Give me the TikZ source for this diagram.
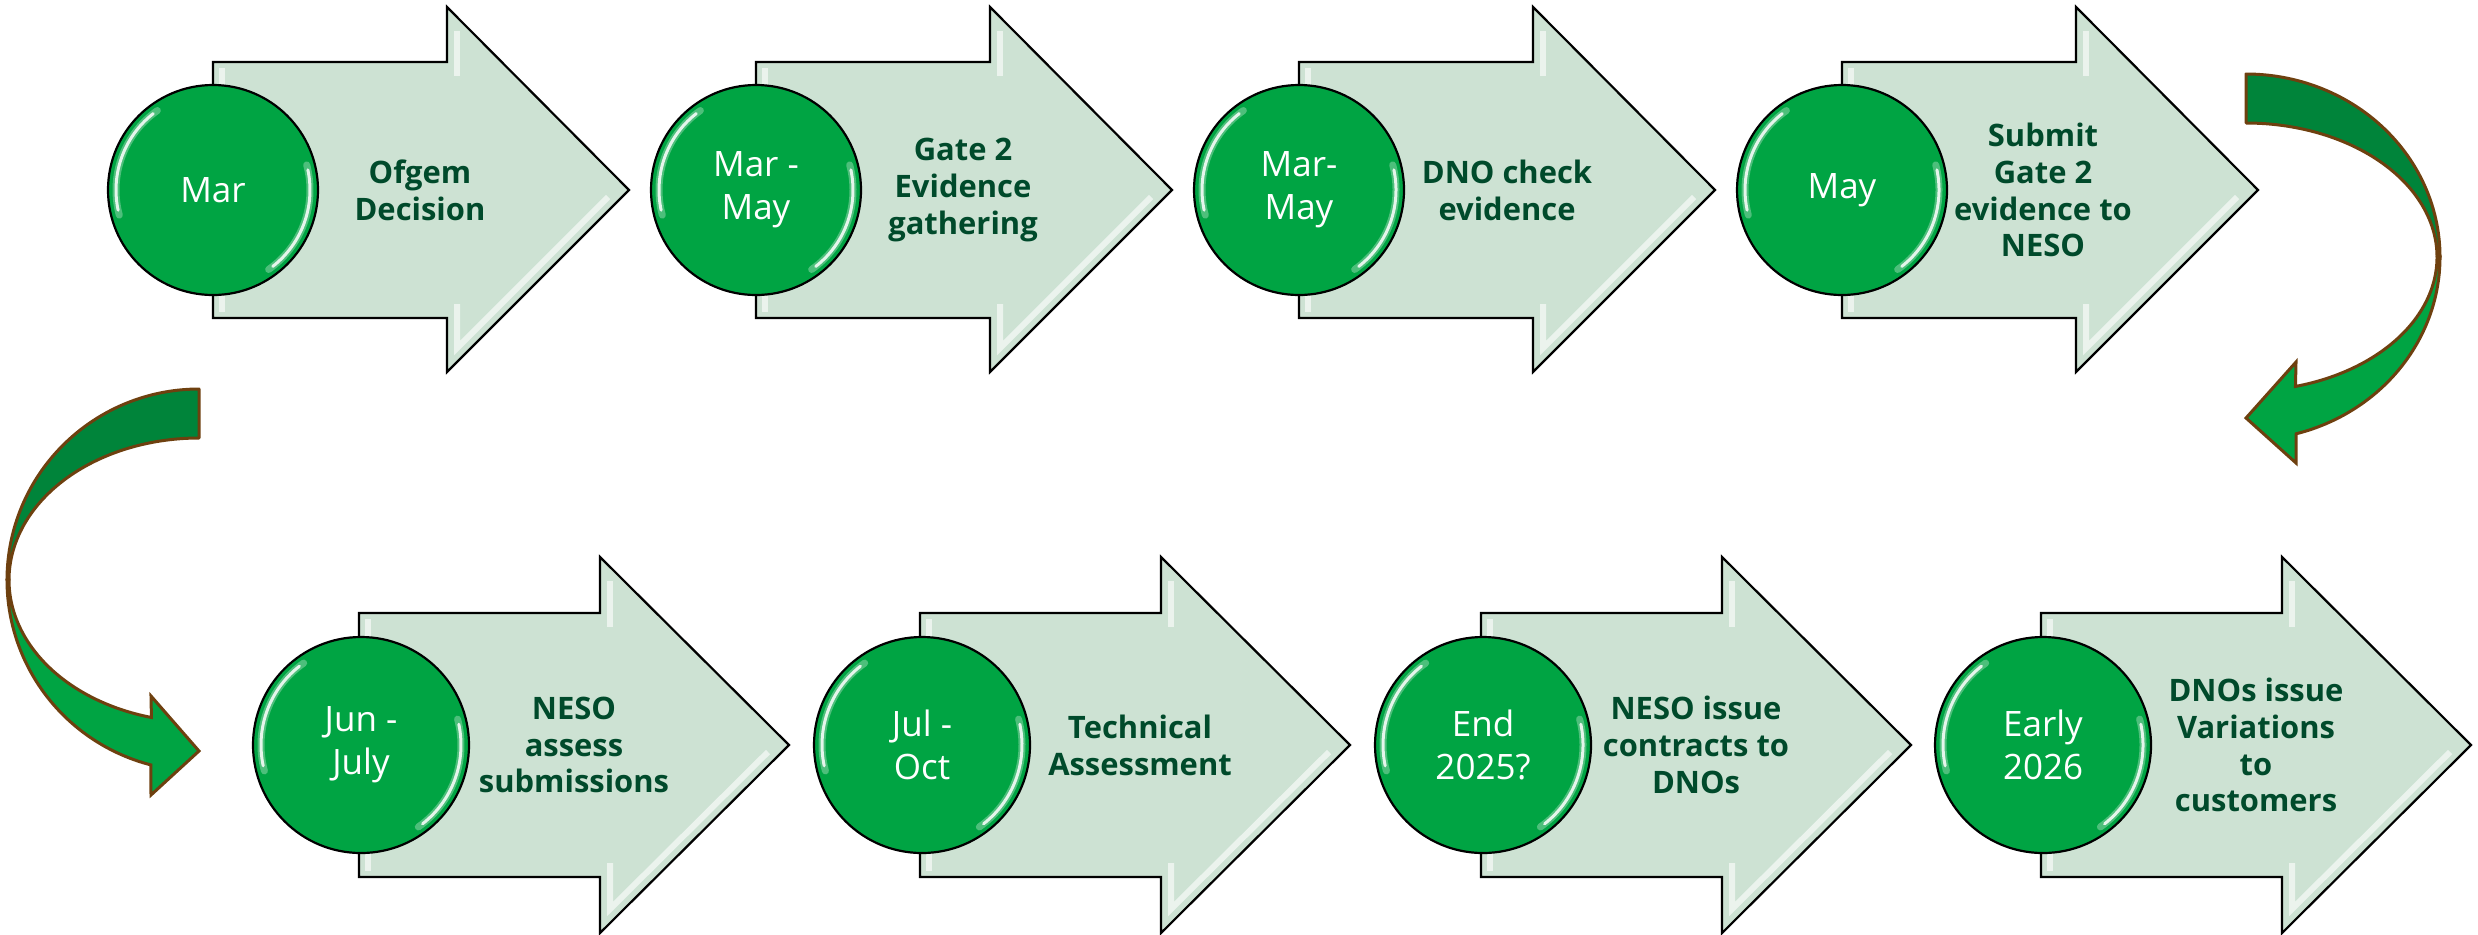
\documentclass[tikz,border=0pt]{standalone}
\usepackage{fontspec}
\setmainfont{Open Sans}
\definecolor{cgreen}{HTML}{00A443}
\definecolor{afill}{HTML}{CDE2D3}
\definecolor{ltext}{HTML}{004A2B}
\definecolor{cdark}{HTML}{00843A}
\definecolor{cbrown}{HTML}{6E400F}
\newcommand\chevarrow[8]{%
  \draw[arrshape] (#1,#2) -- ({#1+#4},#2) -- ({#1+#4},#5) -- ({#1+#7},#8) -- ({#1+#4},#6) -- ({#1+#4},#3) -- (#1,#3) -- cycle;
  \draw[hl] ({#1+#7-21},{#8+7}) -- ({#1+#4+10},{#6-24}) -- ({#1+#4+10},{#3-14});
  \draw[hl] ({#1+#4+10},{#5+24}) -- ({#1+#4+10},{#2+14});
  \draw[hl] ({#1+9},{#2+6}) -- ({#1+9},{#2+40});
  \draw[hl] ({#1+9},{#3-6}) -- ({#1+9},{#3-40});
}
\newcommand\circhl[3]{%
  \draw[chlsoft] plot[domain=165:235,samples=30] ({#1+(#3-8)*cos(\x)},{#2+(#3-8)*sin(\x)});
  \draw[chlsoft] plot[domain=-15:55,samples=30] ({#1+(#3-8)*cos(\x)},{#2+(#3-8)*sin(\x)});
  \draw[chl] plot[domain=168:232,samples=30] ({#1+(#3-8)*cos(\x)},{#2+(#3-8)*sin(\x)});
  \draw[chl] plot[domain=-12:52,samples=30] ({#1+(#3-8)*cos(\x)},{#2+(#3-8)*sin(\x)});
}
\begin{document}
\begin{tikzpicture}[x=0.1mm,y=-0.1mm,
  arrshape/.style={fill=afill, draw=black, line width=0.22mm, line join=miter},
  datec/.style={circle, fill=cgreen, draw=black, line width=0.22mm, text=white, align=center, inner sep=0pt, font=\fontsize{9.96pt}{12.2pt}\selectfont},
  lab/.style={align=center, text=ltext, inner sep=0pt, font=\fontsize{8.8pt}{10.5pt}\selectfont\bfseries},
  hl/.style={white, opacity=0.6, line width=0.6mm},
  chl/.style={white, opacity=0.85, line width=0.3mm, line cap=round},
  chlsoft/.style={white, opacity=0.3, line width=0.7mm, line cap=round},
  curvdark/.style={fill=cdark, draw=cbrown, line width=0.3mm, line join=round},
  curvlight/.style={fill=cgreen, draw=cbrown, line width=0.3mm, line join=miter}]
\useasboundingbox (0,0) rectangle (2478,934);

% ---- row 1 ----
\chevarrow{213}{62}{318}{234}{7}{372}{416}{190}
\node[datec, minimum size=21mm] (d1) at (213,190) {Mar};
\circhl{213}{190}{105}
\node[lab] (t1) at (420,190) {Ofgem\\Decision};

\chevarrow{756}{62}{318}{234}{7}{372}{416}{190}
\node[datec, minimum size=21mm] (d2) at (756,190) {Mar -\\May};
\circhl{756}{190}{105}
\node[lab] (t2) at (963,190) {Gate 2\\Evidence\\gathering};

\chevarrow{1299}{62}{318}{234}{7}{372}{416}{190}
\node[datec, minimum size=21mm] (d3) at (1299,190) {Mar-\\May};
\circhl{1299}{190}{105}
\node[lab] (t3) at (1507,190) {DNO check\\evidence};

\chevarrow{1842}{62}{318}{234}{7}{372}{416}{190}
\node[datec, minimum size=21mm] (d4) at (1842,190) {May};
\circhl{1842}{190}{105}
\node[lab] (t4) at (2043,190) {Submit\\Gate 2\\evidence to\\NESO};

% ---- right curved arrow ----
\draw[curvdark] (2246,74) -- plot[domain=-90:0,samples=60] ({2246+194*cos(\x)},{257+183*sin(\x)})
  -- plot[domain=0:-90,samples=60] ({2246+191*cos(\x)},{257+134*sin(\x)}) -- cycle;
\draw[curvlight] (2440,257) -- plot[domain=0:75,samples=60] ({2246+194*cos(\x)},{257+183*sin(\x)})
  -- (2296,463) -- (2246,418) -- (2296,362) -- ({2246+191*cos(75)},{257+134*sin(75)})
  -- plot[domain=75:0,samples=60] ({2246+191*cos(\x)},{257+134*sin(\x)}) -- cycle;

% ---- left curved arrow ----
\draw[curvdark] (199,389) -- plot[domain=270:180,samples=60] ({199+192*cos(\x)},{580+191*sin(\x)})
  -- plot[domain=180:270,samples=60] ({199+190*cos(\x)},{580+142*sin(\x)}) -- cycle;
\draw[curvlight] (7,580) -- plot[domain=180:104.5,samples=60] ({199+192*cos(\x)},{580+191*sin(\x)})
  -- (151,795) -- (199,751) -- (151,696) -- ({199+190*cos(104.5)},{580+142*sin(104.5)})
  -- plot[domain=104.5:180,samples=60] ({199+190*cos(\x)},{580+142*sin(\x)}) -- cycle;

% ---- row 2 ----
\chevarrow{359}{613}{877}{241}{557}{933}{430}{745}
\node[datec, minimum size=21.6mm] (d5) at (361,745) {Jun -\\July};
\circhl{361}{745}{108}
\node[lab] (t5) at (574,745) {NESO\\assess\\submissions};

\chevarrow{920}{613}{877}{241}{557}{933}{430}{745}
\node[datec, minimum size=21.6mm] (d6) at (922,745) {Jul -\\Oct};
\circhl{922}{745}{108}
\node[lab] (t6) at (1140,745) {Technical\\Assessment};

\chevarrow{1481}{613}{877}{241}{557}{933}{430}{745}
\node[datec, minimum size=21.6mm] (d7) at (1483,745) {End\\2025?};
\circhl{1483}{745}{108}
\node[lab] (t7) at (1696,745) {NESO issue\\contracts to\\DNOs};

\chevarrow{2041}{613}{877}{241}{557}{933}{430}{745}
\node[datec, minimum size=21.6mm] (d8) at (2043,745) {Early\\2026};
\circhl{2043}{745}{108}
\node[lab] (t8) at (2256,745) {DNOs issue\\Variations\\to\\customers};
\end{tikzpicture}
\end{document}
